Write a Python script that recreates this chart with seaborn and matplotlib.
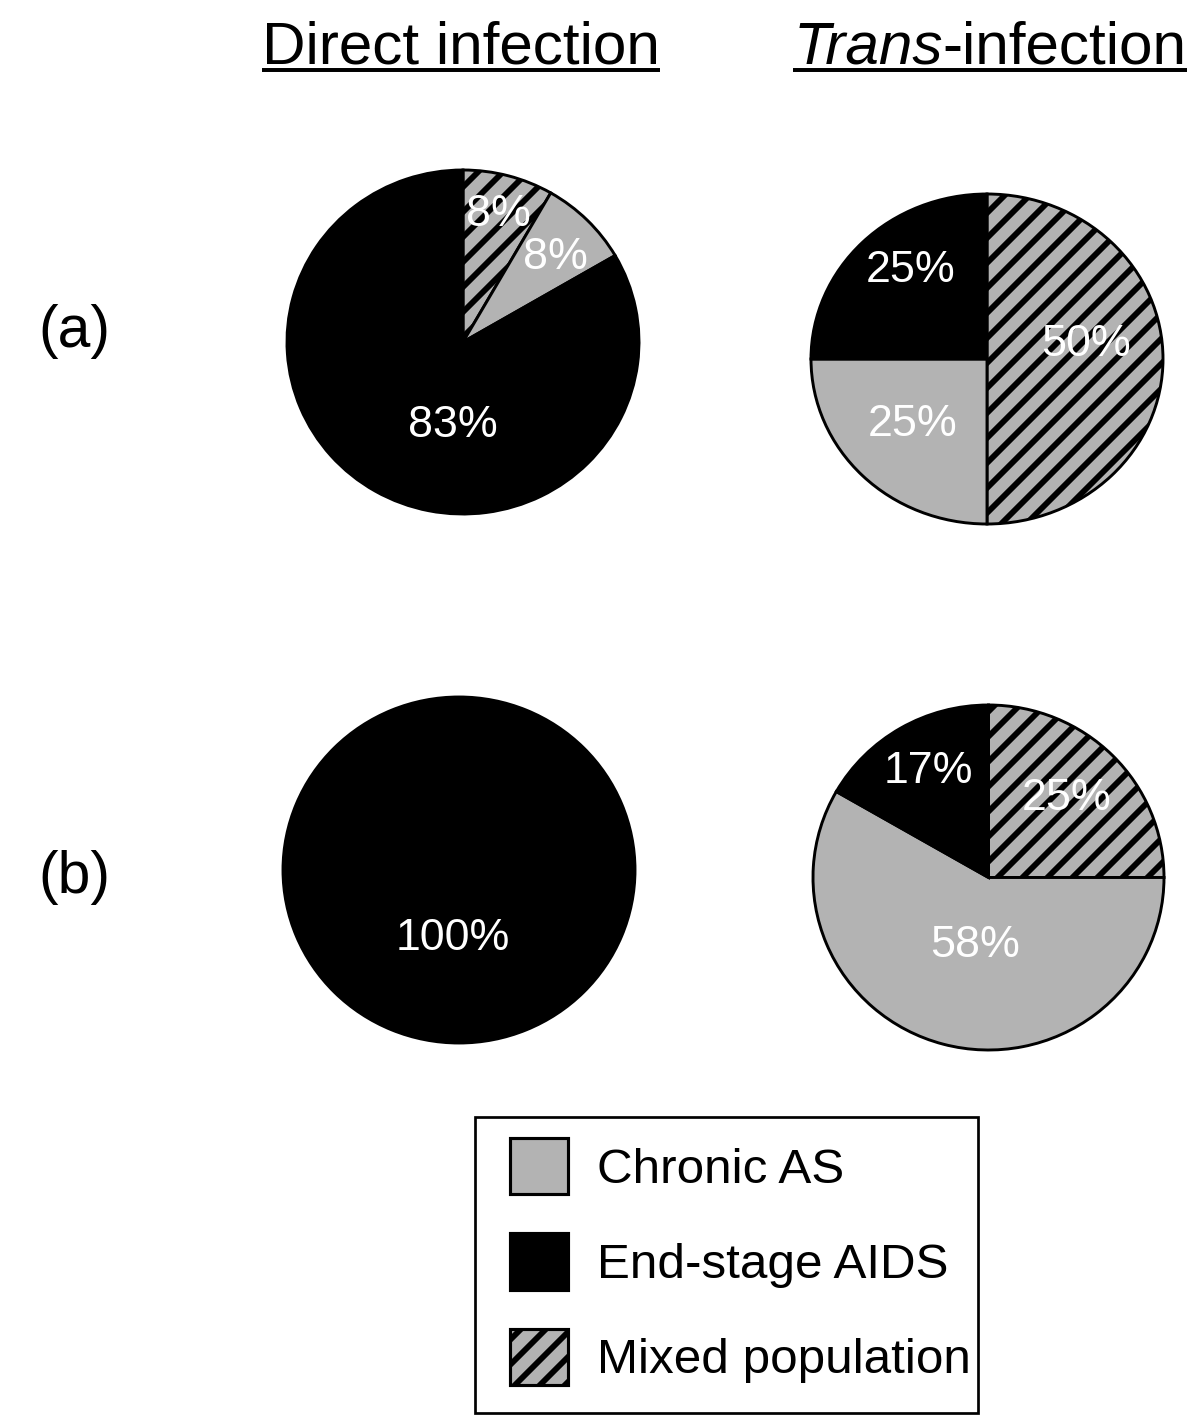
import numpy as np
import pandas as pd
import seaborn as sns
import matplotlib
matplotlib.use("Agg")
import matplotlib.pyplot as plt
from matplotlib.patches import Patch, Rectangle
from matplotlib.lines import Line2D

# ---------------- data ----------------
categories = ["Chronic AS", "End-stage AIDS", "Mixed population"]
# wedges are drawn clockwise from 12 o'clock in this order
wedge_order = ["Mixed population", "Chronic AS", "End-stage AIDS"]
direct_a = [8.3, 8.3, 83.3]      # (a) Direct infection
trans_a = [50.0, 25.0, 25.0]     # (a) Trans-infection
direct_b = [0.0, 0.0, 100.0]     # (b) Direct infection
trans_b = [25.0, 58.3, 16.7]     # (b) Trans-infection
row_labels = ["(a)", "(b)"]
title_direct = "Direct infection"
title_trans_italic = "Trans"
title_trans_rest = "-infection"

# ---------------- style ----------------
W, H, DPI = 1200, 1422, 150
sns.set_theme(style="white")
plt.rcParams["font.family"] = ["Liberation Sans", "DejaVu Sans"]
plt.rcParams["text.color"] = "black"
plt.rcParams["hatch.linewidth"] = 2.8

gray = "#b3b3b3"
palette = {"Chronic AS": gray, "End-stage AIDS": "black", "Mixed population": gray}
hatches = {"Chronic AS": "", "End-stage AIDS": "", "Mixed population": "//"}

fig = plt.figure(figsize=(W / DPI, H / DPI), dpi=DPI, facecolor="white")


def px_box(l, r, t, b):
    return [l / W, 1 - b / H, (r - l) / W, (b - t) / H]


# pixel bounding boxes of each pie and label placement (radial dist, clockwise shift deg)
panels = [
    (direct_a, (287, 639, 170, 514), [(0.77, 0), (0.72, 2), (0.49, -23)]),
    (trans_a, (811, 1163, 194, 524), [(0.57, -9), (0.58, 2), (0.69, 6)]),
    (direct_b, (283, 635, 697, 1043), [None, None, (0.40, 5)]),
    (trans_b, (813, 1164, 705, 1050), [(0.64, -1), (0.40, -4), (0.70, 1)]),
]

for values, box, label_pos in panels:
    ax = fig.add_axes(px_box(*box))
    keep = [i for i, v in enumerate(values) if v > 0]
    vals = [values[i] for i in keep]
    names = [wedge_order[i] for i in keep]
    wedges, _ = ax.pie(
        vals,
        colors=[palette[n] for n in names],
        hatch=[hatches[n] for n in names],
        startangle=90,
        counterclock=False,
        radius=1,
        wedgeprops=dict(edgecolor="black", linewidth=1.4, clip_on=False),
    )
    ax.set_aspect("auto")
    ax.set_xlim(-1, 1)
    ax.set_ylim(-1, 1)
    ax.axis("off")
    total = sum(vals)
    for w, i, v in zip(wedges, keep, vals):
        dist, shift = label_pos[i]
        mid = np.deg2rad((w.theta1 + w.theta2) / 2 - shift)
        ax.text(dist * np.cos(mid), dist * np.sin(mid), f"{100 * v / total:.0f}%",
                ha="center", va="center", color="white", fontsize=21.5)

# ---------------- titles ----------------
renderer = fig.canvas.get_renderer()
title_fs = 28.9
base_y = 1 - 63 / H
under_y = 1 - 70 / H

t = fig.text(461 / W, base_y, title_direct, ha="center", va="baseline", fontsize=title_fs)
bb = t.get_window_extent(renderer)
fig.add_artist(Line2D([bb.x0 / W, bb.x1 / W], [under_y, under_y], transform=fig.transFigure,
                      color="black", lw=1.9, solid_capstyle="butt"))

t1 = fig.text(0, base_y, title_trans_italic, ha="left", va="baseline", fontsize=title_fs, style="italic")
t2 = fig.text(0, base_y, title_trans_rest, ha="left", va="baseline", fontsize=title_fs)
w1 = t1.get_window_extent(renderer).width
w2 = t2.get_window_extent(renderer).width
x0 = 990 - (w1 + w2) / 2
t1.set_x(x0 / W)
t2.set_x((x0 + w1) / W)
fig.add_artist(Line2D([x0 / W, (x0 + w1 + w2) / W], [under_y, under_y], transform=fig.transFigure,
                      color="black", lw=1.9, solid_capstyle="butt"))

# row labels
for lab, yb in zip(row_labels, [347, 893]):
    fig.text(38 / W, 1 - yb / H, lab, ha="left", va="baseline", fontsize=28.2)

# ---------------- legend ----------------
handles = [Patch(facecolor=palette[c], edgecolor="black", hatch=hatches[c], linewidth=1.5)
           for c in categories]
leg = fig.legend(handles, categories, loc="upper left",
                 bbox_to_anchor=(510 / W, 1 - 1138 / H), bbox_transform=fig.transFigure,
                 fontsize=23.7, handlelength=1.17, handleheight=1.38, handletextpad=0.59,
                 labelspacing=0.79, borderpad=0, borderaxespad=0, frameon=False,
                 labelcolor="black")
# legend frame
fig.add_artist(Rectangle((475 / W, 1 - 1413 / H), (978 - 475) / W, (1413 - 1117) / H,
                         transform=fig.transFigure, facecolor="none", edgecolor="black",
                         linewidth=1.3, zorder=0))

fig.savefig("out.png", dpi=DPI, facecolor="white")
